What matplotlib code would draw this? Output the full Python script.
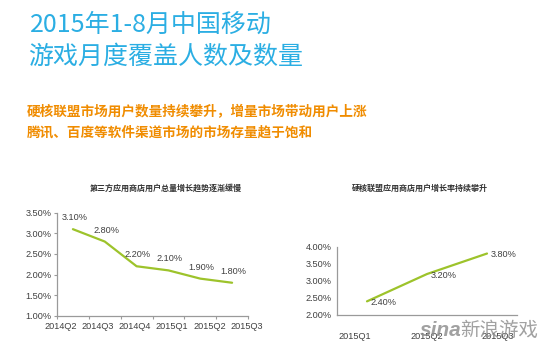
import matplotlib
matplotlib.use("Agg")
import matplotlib.pyplot as plt

# ---- data ----
left_title = "第三方应用商店用户总量增长趋势逐渐缓慢"
left_cats = ["2014Q2", "2014Q3", "2014Q4", "2015Q1", "2015Q2", "2015Q3"]
left_vals = [3.10, 2.80, 2.20, 2.10, 1.90, 1.80]
left_yticks = [1.0, 1.5, 2.0, 2.5, 3.0, 3.5]

right_title = "硬核联盟应用商店用户增长率持续攀升"
right_cats = ["2015Q1", "2015Q2", "2015Q3"]
right_vals = [2.40, 3.20, 3.80]
right_yticks = [2.0, 2.5, 3.0, 3.5, 4.0]

title_lines = ["2015年1-8月中国移动", "游戏月度覆盖人数及数量"]
sub_lines = ["硬核联盟市场用户数量持续攀升，增量市场带动用户上涨",
             "腾讯、百度等软件渠道市场的市场存量趋于饱和"]

CJK = ["Noto Sans CJK SC", "DejaVu Sans"]
NUM = ["Liberation Sans", "DejaVu Sans"]
LINE = "#9DC32B"
TXT = "#404040"
SPINE = "#9A9A9A"
NUMFS = 6.6

fig = plt.figure(figsize=(5.5, 3.5), dpi=100)
fig.patch.set_facecolor("white")

# titles
fig.text(30 / 550, 1 - 25 / 350, title_lines[0], family=CJK, fontsize=18,
         color="#2BAEE3", va="center", ha="left", fontweight="light")
fig.text(28 / 550, 1 - 57 / 350, title_lines[1], family=CJK, fontsize=18,
         color="#2BAEE3", va="center", ha="left", fontweight="light")
fig.text(27 / 550, 1 - 112 / 350, sub_lines[0], family=CJK, fontsize=9.8,
         color="#F08C00", va="center", ha="left", fontweight="bold")
fig.text(27 / 550, 1 - 133 / 350, sub_lines[1], family=CJK, fontsize=9.8,
         color="#F08C00", va="center", ha="left", fontweight="bold")


def style(ax):
    for s in ["top", "right"]:
        ax.spines[s].set_visible(False)
    for s in ["left", "bottom"]:
        ax.spines[s].set_color(SPINE)
        ax.spines[s].set_linewidth(0.9)
    ax.set_facecolor("white")


# ---- left chart ----
ax1 = fig.add_axes([57 / 550, 1 - 315.7 / 350, 191 / 550, 103 / 350])
style(ax1)
xs = list(range(len(left_vals)))
ax1.plot(xs, left_vals, color=LINE, lw=1.6, solid_capstyle="round")
ax1.set_xlim(-0.5, len(left_cats) - 0.5)
ax1.set_ylim(left_yticks[0], left_yticks[-1])
ax1.set_yticks(left_yticks)
ax1.set_yticklabels([f"{v:.2f}%" for v in left_yticks], family=NUM,
                    fontsize=NUMFS, color=TXT)
ax1.tick_params(axis="y", length=2, color=SPINE, pad=2)
ax1.set_xticks([i - 0.5 for i in range(len(left_cats) + 1)])
ax1.set_xticklabels([])
ax1.tick_params(axis="x", length=2.5, color=SPINE)
for i, c in enumerate(left_cats):
    ax1.text(-0.39 + 1.17 * i, -0.06, c, transform=ax1.get_xaxis_transform(),
             ha="center", va="top", family=NUM, fontsize=NUMFS, color=TXT)
for x, v in zip(xs, left_vals):
    ax1.annotate(f"{v:.2f}%", (x, v), xytext=(1, 5), textcoords="offset points",
                 ha="center", va="bottom", family=NUM, fontsize=NUMFS, color=TXT)
fig.text(166 / 550, 1 - 188 / 350, left_title, family=CJK, fontsize=5.8,
         color="#333333", ha="center", va="center", fontweight="bold")

# ---- right chart ----
ax2 = fig.add_axes([337 / 550, 1 - 315 / 350, 180 / 550, 68.3 / 350])
style(ax2)
xs2 = list(range(len(right_vals)))
ax2.plot(xs2, right_vals, color=LINE, lw=1.6, solid_capstyle="round")
ax2.set_xlim(-0.5, len(right_cats) - 0.5)
ax2.set_ylim(right_yticks[0], right_yticks[-1])
ax2.set_yticks(right_yticks)
ax2.set_yticklabels([f"{v:.2f}%" for v in right_yticks], family=NUM,
                    fontsize=NUMFS, color=TXT)
ax2.tick_params(axis="y", length=0, pad=4)
ax2.set_xticks([])
for i, c in enumerate(right_cats):
    ax2.text(-0.2 + 1.19 * i, -0.25, c, transform=ax2.get_xaxis_transform(),
             ha="center", va="top", family=NUM, fontsize=NUMFS, color=TXT)
for x, v in zip(xs2, right_vals):
    ax2.annotate(f"{v:.2f}%", (x, v), xytext=(2.5, -1), textcoords="offset points",
                 ha="left", va="center", family=NUM, fontsize=NUMFS, color=TXT)
fig.text(420 / 550, 1 - 188 / 350, right_title, family=CJK, fontsize=5.8,
         color="#333333", ha="center", va="center", fontweight="bold")

# watermark (overlaps the x labels, as in the reference)
fig.text(420 / 550, 1 - 331 / 350, "sina", family=NUM, fontsize=15,
         fontweight="bold", style="italic", color="#8A8A8A", alpha=0.8,
         ha="left", va="center")
fig.text(460 / 550, 1 - 330 / 350, "新浪游戏", family=CJK, fontsize=14,
         color="#8A8A8A", alpha=0.8, ha="left", va="center")

fig.savefig("out.png", dpi=100, facecolor="white")
